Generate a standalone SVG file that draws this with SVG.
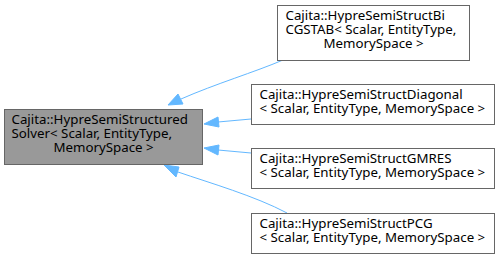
<svg xmlns="http://www.w3.org/2000/svg" width="501" height="258" viewBox="0 0 501 258">
  <defs>
    <style>
      .box { fill: #ffffff; stroke: #666666; stroke-width: 1; }
      .base { fill: #999999; stroke: #666666; stroke-width: 1; }
      text { font-family: "Noto Sans", "Open Sans", sans-serif; font-size: 13.3px; fill: #000000; }
      .mid { text-anchor: middle; }
      .edge { fill: none; stroke: #63b8ff; stroke-width: 1; }
      .head { fill: #63b8ff; stroke: #63b8ff; stroke-width: 1; }
    </style>
  </defs>
  <rect width="501" height="258" fill="#ffffff"/>

  <g id="connectors">
    <path class="edge" d="M283,60 C255,72 215,84 181,99"/>
    <polygon class="head" points="183,104 168,105 178,94"/>
    <path class="edge" d="M251,119 L218,122"/>
    <polygon class="head" points="219,127 204,124 218,117"/>
    <path class="edge" d="M251,153 L218,150"/>
    <polygon class="head" points="218,155 204,148 219,145"/>
    <path class="edge" d="M287,213 C255,196 210,183 178,172"/>
    <polygon class="head" points="176,177 164,165 179,167"/>
  </g>

  <g id="node-base">
    <rect class="base" x="4.5" y="109.5" width="198" height="55"/>
    <text x="11.5" y="123.5">Cajita::HypreSemiStructured</text>
    <text x="11.5" y="137.5">Solver&lt; Scalar, EntityType,</text>
    <text class="mid" x="103.5" y="151.5">MemorySpace &gt;</text>
  </g>

  <g id="node-bicgstab">
    <rect class="box" x="277.5" y="5.5" width="192" height="55"/>
    <text x="285.5" y="19.5">Cajita::HypreSemiStructBi</text>
    <text x="285.5" y="33.5">CGSTAB&lt; Scalar, EntityType,</text>
    <text class="mid" x="373.5" y="47.5">MemorySpace &gt;</text>
  </g>

  <g id="node-diagonal">
    <rect class="box" x="251.5" y="84.5" width="243" height="40"/>
    <text x="259.5" y="99">Cajita::HypreSemiStructDiagonal</text>
    <text x="259.5" y="113">&lt; Scalar, EntityType, MemorySpace &gt;</text>
  </g>

  <g id="node-gmres">
    <rect class="box" x="251.5" y="148.5" width="243" height="40"/>
    <text x="259.5" y="163">Cajita::HypreSemiStructGMRES</text>
    <text x="259.5" y="177">&lt; Scalar, EntityType, MemorySpace &gt;</text>
  </g>

  <g id="node-pcg">
    <rect class="box" x="251.5" y="213.5" width="243" height="40"/>
    <text x="259.5" y="228">Cajita::HypreSemiStructPCG</text>
    <text x="259.5" y="242">&lt; Scalar, EntityType, MemorySpace &gt;</text>
  </g>
</svg>
